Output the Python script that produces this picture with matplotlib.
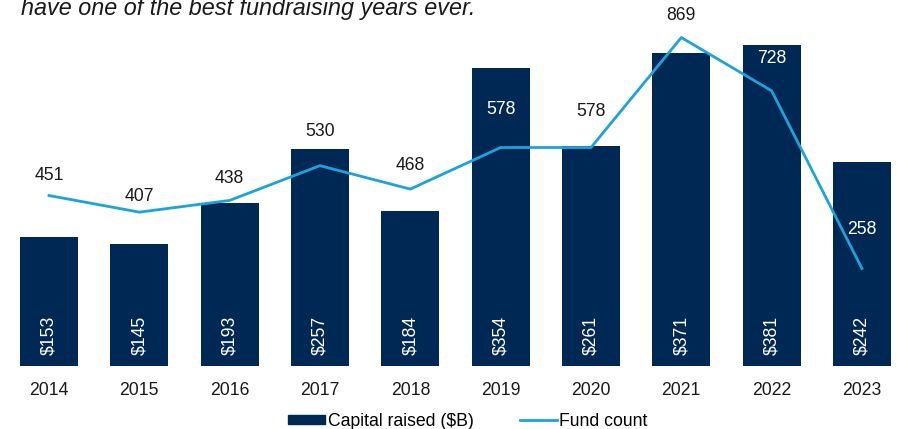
import matplotlib
matplotlib.use("Agg")
import matplotlib.pyplot as plt
import numpy as np

years = ["2014", "2015", "2016", "2017", "2018", "2019", "2020", "2021", "2022", "2023"]
capital = [153, 145, 193, 257, 184, 354, 261, 371, 381, 242]
fund_count = [451, 407, 438, 530, 468, 578, 578, 869, 728, 258]
# label offsets above line points (pixels) and whether label sits inside a bar
label_dy = [20, 16, 22, 34, 24, 38, 36, 22, 32, 39]
label_white = [False, False, False, False, False, True, False, False, True, True]

plt.rcParams['font.family'] = ['Liberation Sans', 'DejaVu Sans']

BAR = "#002855"
LINE = "#1AA3DC"
TXT = "#1a1a1a"

fig = plt.figure(figsize=(8.97, 4.29), dpi=100)
ax = fig.add_axes([0, 63/429, 1, 366/429])
x = np.arange(len(years))
ax.bar(x, capital, width=0.642, color=BAR, zorder=1)
ax.set_ylim(0, 366/0.8425)
ax.set_xlim(-49/90.33, 848/90.33)

for xi, v in zip(x, capital):
    ax.text(xi, 11/0.8425, f"${v}", rotation=90, ha='center', va='bottom',
            color='white', fontsize=12.7, zorder=3)

ax2 = ax.twinx()
ax2.plot(x, fund_count, color=LINE, lw=2, zorder=2)
ax2.set_ylim(0, 366/0.378)
for xi, v, dy, w in zip(x, fund_count, label_dy, label_white):
    ax2.annotate(str(v), (xi, v), xytext=(0, dy*0.72), textcoords='offset points',
                 ha='center', va='center', fontsize=12.7,
                 color='white' if w else TXT)

for a in (ax, ax2):
    for s in a.spines.values():
        s.set_visible(False)
    a.tick_params(left=False, right=False, labelleft=False, labelright=False, bottom=False)
ax.set_xticks(x)
ax.set_xticklabels(years, fontsize=12.7, color=TXT)
ax.tick_params(axis='x', pad=8)

fig.text(21/897, 1 - 14.5/429, "have one of the best fundraising years ever.",
         fontsize=16.8, style='italic', ha='left', va='baseline', color=TXT)

from matplotlib.patches import Patch
from matplotlib.lines import Line2D
handles = [Patch(color=BAR, label="Capital raised ($B)"),
           Line2D([0], [0], color=LINE, lw=2, label="Fund count")]
fig.legend(handles=handles, loc='center', bbox_to_anchor=(468/897, 1 - 421/429),
           ncol=2, frameon=False, fontsize=12.7, handlelength=2.1, handleheight=0.42,
           handletextpad=0.15, columnspacing=2.6)

fig.savefig("out.png", dpi=100)
